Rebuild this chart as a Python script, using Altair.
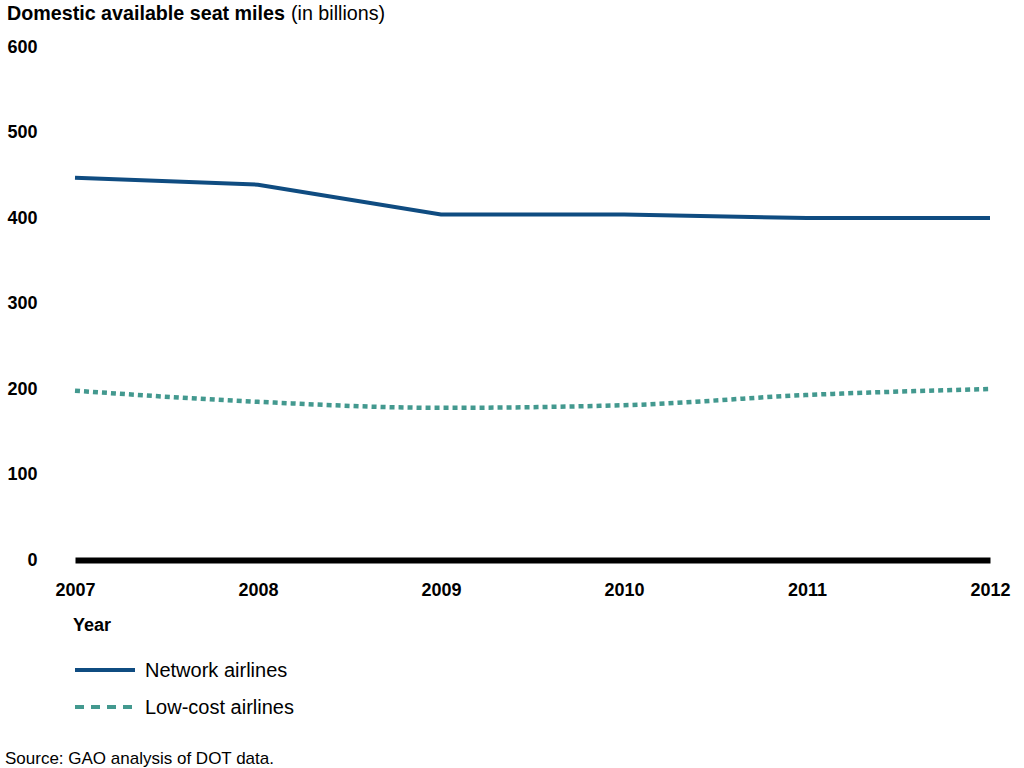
import altair as alt
import pandas as pd

# Domestic available seat miles, in billions
years = [2007, 2008, 2009, 2010, 2011, 2012]
network = [447, 439, 404, 404, 400, 400]
low_cost = [198, 185, 178, 181, 193, 200]

y_ticks = [0, 100, 200, 300, 400, 500, 600]

NETWORK_COLOR = "#0f4c81"
LOWCOST_COLOR = "#43998f"
FONT = "Liberation Sans"

df = pd.DataFrame({"year": years, "network": network, "low_cost": low_cost})

x_enc = alt.X(
    "year:Q",
    scale=alt.Scale(domain=[2007, 2012], nice=False, zero=False),
    axis=alt.Axis(
        values=years,
        format="d",
        title=None,
        grid=False,
        ticks=False,
        domain=True,
        domainColor="#000000",
        domainWidth=6,
        labelFont=FONT,
        labelFontSize=18,
        labelFontWeight="bold",
        labelColor="#000000",
        labelPadding=21,
        labelFlush=False,
    ),
)

y_scale = alt.Scale(domain=[0, 600], nice=False)
y_axis = alt.Axis(
    values=y_ticks,
    title=None,
    grid=False,
    ticks=False,
    domain=False,
    labelFont=FONT,
    labelFontSize=18,
    labelFontWeight="bold",
    labelColor="#000000",
    labelPadding=38,
)

network_line = (
    alt.Chart(df)
    .mark_line(color=NETWORK_COLOR, strokeWidth=4)
    .encode(x=x_enc, y=alt.Y("network:Q", scale=y_scale, axis=y_axis))
)

lowcost_line = (
    alt.Chart(df)
    .mark_line(color=LOWCOST_COLOR, strokeWidth=4.5, strokeDash=[5, 4], interpolate="monotone")
    .encode(x="year:Q", y=alt.Y("low_cost:Q", scale=y_scale))
)


def label(text, x, y, size=18, weight="normal", align="left"):
    return (
        alt.Chart(pd.DataFrame({"t": [text]}))
        .mark_text(
            font=FONT,
            fontSize=size,
            fontWeight=weight,
            align=align,
            baseline="alphabetic",
            color="#000000",
        )
        .encode(text="t:N", x=alt.value(x), y=alt.value(y))
    )


title_bold = label("Domestic available seat miles", -68, -27, size=19.7, weight="bold")
title_rest = label("(in billions)", 216, -27, size=19.7)
year_title = label("Year", -2, 584, weight="bold")
source = label("Source: GAO analysis of DOT data.", -70, 717, size=17)

legend_net_line = (
    alt.Chart(pd.DataFrame({"k": [0]}))
    .mark_rule(color=NETWORK_COLOR, strokeWidth=4)
    .encode(x=alt.value(0), x2=alt.value(60), y=alt.value(623))
)
legend_low_line = (
    alt.Chart(pd.DataFrame({"k": [0]}))
    .mark_rule(color=LOWCOST_COLOR, strokeWidth=4, strokeDash=[9, 7])
    .encode(x=alt.value(0), x2=alt.value(60), y=alt.value(660))
)
legend_net_text = label("Network airlines", 70, 630, size=20)
legend_low_text = label("Low-cost airlines", 70, 667, size=20)

chart = (
    alt.layer(
        network_line,
        lowcost_line,
        title_bold,
        title_rest,
        year_title,
        legend_net_line,
        legend_low_line,
        legend_net_text,
        legend_low_text,
        source,
    )
    .properties(
        width=915,
        height=513,
        autosize=alt.AutoSizeParams(type="none"),
        padding={"left": 75, "top": 47, "right": 34, "bottom": 208},
        background="#ffffff",
    )
    .configure_view(stroke=None)
)

chart.save("out.html", embed_options={"renderer": "svg", "actions": False})
